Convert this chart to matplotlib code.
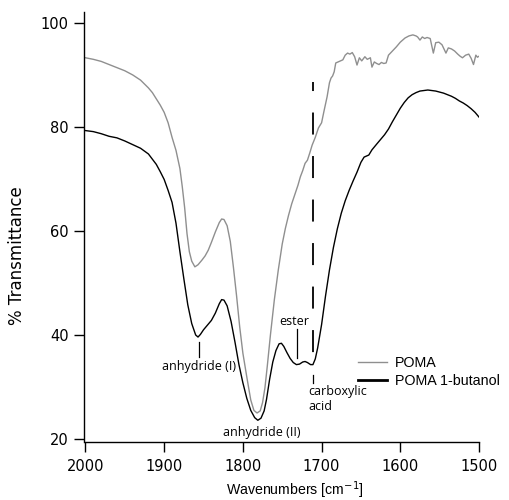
import matplotlib
matplotlib.use("Agg")
import matplotlib.pyplot as plt

# FTIR spectra, carbonyl region
wn_butanol = [2000, 1990, 1980, 1970, 1960, 1950, 1940, 1930, 1920, 1910,
              1905, 1900, 1895, 1890, 1885, 1880, 1875, 1870, 1865, 1860,
              1857, 1854, 1850, 1845, 1840, 1835, 1830, 1827, 1824, 1820,
              1815, 1810, 1805, 1800, 1795, 1790, 1785, 1781, 1777, 1773,
              1770, 1766, 1762, 1758, 1754, 1751, 1748, 1744, 1740, 1736,
              1732, 1728, 1724, 1721, 1718, 1714, 1711, 1708, 1705, 1700,
              1695, 1690, 1685, 1680, 1675, 1670, 1665, 1660, 1655, 1650,
              1646, 1643, 1640, 1636, 1630, 1625, 1620, 1615, 1610, 1605,
              1600, 1595, 1590, 1585, 1580, 1575, 1570, 1565, 1560, 1555,
              1550, 1545, 1540, 1535, 1530, 1525, 1520, 1515, 1510, 1505,
              1500]
t_butanol = [79.3, 79.1, 78.7, 78.2, 77.9, 77.3, 76.6, 75.9, 74.8, 72.8,
             71.4, 69.9, 67.8, 65.5, 61.5, 56.0, 50.8, 45.8, 42.2, 40.0,
             39.6, 40.1, 41.0, 41.9, 42.8, 44.2, 46.0, 46.8, 46.7, 45.6,
             42.6, 38.6, 34.3, 30.8, 27.8, 25.5, 24.1, 23.6, 24.0, 25.4,
             27.6, 31.5, 34.8, 37.0, 38.3, 38.4, 37.8, 36.6, 35.5, 34.7,
             34.3, 34.4, 34.8, 34.9, 34.7, 34.3, 34.3, 35.4, 37.5, 42.0,
             47.5, 52.5, 56.8, 60.4, 63.4, 65.8, 67.8, 69.6, 71.3, 73.2,
             74.2, 74.4, 74.6, 75.6, 76.7, 77.6, 78.5, 79.6, 81.0, 82.3,
             83.6, 84.7, 85.6, 86.2, 86.6, 86.9, 87.0, 87.1, 87.0, 86.9,
             86.7, 86.5, 86.2, 85.9, 85.5, 85.0, 84.6, 84.1, 83.5, 82.8,
             81.9]

wn_poma = [2000, 1990, 1980, 1970, 1960, 1950, 1940, 1930, 1920, 1915,
           1910, 1905, 1900, 1895, 1890, 1885, 1880, 1877, 1874, 1871,
           1868, 1865, 1861, 1857, 1852, 1848, 1844, 1840, 1835, 1830,
           1827, 1824, 1820, 1816, 1812, 1808, 1804, 1800, 1795, 1790,
           1786, 1782, 1778, 1775, 1772, 1769, 1765, 1760, 1755, 1750,
           1746, 1742, 1738, 1734, 1730, 1727, 1724, 1721, 1718, 1715,
           1712, 1708, 1704, 1700, 1697, 1693, 1690, 1688, 1686, 1684,
           1682, 1679, 1676, 1673, 1670, 1667, 1664, 1661, 1658, 1655,
           1652, 1649, 1645, 1642, 1638, 1636, 1633, 1630, 1627, 1624,
           1621, 1618, 1615, 1610, 1605, 1600, 1594, 1589, 1584, 1580,
           1578, 1575, 1572, 1569, 1566, 1562, 1558, 1555, 1551, 1547,
           1542, 1539, 1535, 1531, 1527, 1524, 1521, 1517, 1513, 1510,
           1507, 1504, 1502, 1500]
t_poma = [93.3, 93.0, 92.6, 92.0, 91.4, 90.8, 90.0, 89.0, 87.5, 86.6,
          85.4, 84.2, 82.8, 80.8, 78.0, 75.5, 72.0, 68.5, 64.5, 59.5,
          56.0, 54.2, 53.1, 53.5, 54.4, 55.2, 56.3, 57.8, 59.8, 61.6,
          62.3, 62.2, 61.0, 58.0, 53.0, 47.5, 41.5, 36.5, 31.9, 27.5,
          25.5, 25.0, 25.4, 27.0, 29.8, 34.0, 40.0, 46.8, 52.5, 57.5,
          60.5, 63.0, 65.2, 67.0, 68.8, 70.4, 71.6, 73.0, 73.6, 75.0,
          76.5, 78.0, 79.8, 80.8, 83.0, 85.8, 88.5, 89.4, 89.8, 90.6,
          92.3, 92.5, 92.7, 92.9, 93.8, 94.2, 94.0, 94.3, 93.5, 91.9,
          93.3, 92.7, 93.5, 93.0, 93.3, 91.5, 92.5, 92.2, 92.0, 92.4,
          92.2, 92.3, 93.8, 94.6, 95.4, 96.3, 97.1, 97.5, 97.7, 97.5,
          97.3, 96.7, 97.3, 97.0, 97.2, 97.0, 94.2, 96.2, 96.3, 95.8,
          94.2, 95.2, 95.0, 94.6, 94.0, 93.6, 93.3, 93.8, 94.0, 93.2,
          92.0, 93.8, 93.4, 93.6]

series_labels = ["POMA", "POMA 1-butanol"]
x_ticks = [2000, 1900, 1800, 1700, 1600, 1500]
y_ticks = [20, 40, 60, 80, 100]

# band positions (cm-1)
anhydride_1 = 1856
anhydride_2 = 1781
ester = 1731
carboxylic = 1711

fig = plt.figure(figsize=(5.09, 5.0), dpi=100)
ax = fig.add_axes([83.5 / 509, 1 - 442 / 500, (479 - 83.5) / 509, 430 / 500])

ax.plot(wn_poma, t_poma, color="#8f8f8f", lw=1.0, label=series_labels[0])
ax.plot(wn_butanol, t_butanol, color="black", lw=1.0, label=series_labels[1])

ax.set_xlim(2002.5, 1500)
ax.set_ylim(19.42, 102.1)
ax.set_xticks(x_ticks)
ax.set_yticks(y_ticks)
ax.spines["top"].set_visible(False)
ax.spines["right"].set_visible(False)
ax.spines["bottom"].set_bounds(2000, 1500)
for s in ("left", "bottom"):
    ax.spines[s].set_linewidth(1.0)
ax.tick_params(axis="both", direction="out", length=7.5, width=1.0,
               labelsize=10.5, colors="black")
ax.tick_params(axis="x", pad=5)
ax.tick_params(axis="y", pad=3)

ax.set_xlabel("Wavenumbers [cm$^{-1}$]", fontsize=10.2,
              family="Liberation Sans", va="center")
ax.xaxis.set_label_coords(0.535, -0.112)
ax.set_ylabel("% Transmittance", fontsize=12, va="center")
ax.yaxis.set_label_coords(-0.168, 0.433)

# band annotations
ann = dict(fontsize=9, family="Open Sans", color="black")
ax.plot([carboxylic, carboxylic], [88.65, 35.2], color="black", lw=1.3,
        linestyle=(7.2, (12.2, 11.9)))
ax.plot([anhydride_1, anhydride_1], [38.7, 35.8], color="black", lw=0.9)
ax.text(anhydride_1, 34.0, "anhydride (I)", ha="center", va="center", **ann)
ax.text(1775.6, 21.3, "anhydride (II)", ha="center", va="center", **ann)
ax.plot([ester, ester], [41.2, 35.6], color="black", lw=0.9)
ax.text(1735, 42.6, "ester", ha="center", va="center", **ann)
ax.plot([carboxylic, carboxylic], [32.3, 30.8], color="black", lw=0.9)
ax.text(1717, 29.2, "carboxylic", ha="left", va="center", **ann)
ax.text(1717, 26.2, "acid", ha="left", va="center", **ann)

leg = ax.legend(frameon=False, loc="upper left", bbox_to_anchor=(0.694, 0.2),
                prop={"family": "Liberation Sans", "size": 10.3},
                handlelength=2.0, handletextpad=0.6,
                labelspacing=0.3, borderpad=0, borderaxespad=0)
leg.get_lines()[1].set_linewidth(2.0)

fig.savefig("out.png", dpi=100)
